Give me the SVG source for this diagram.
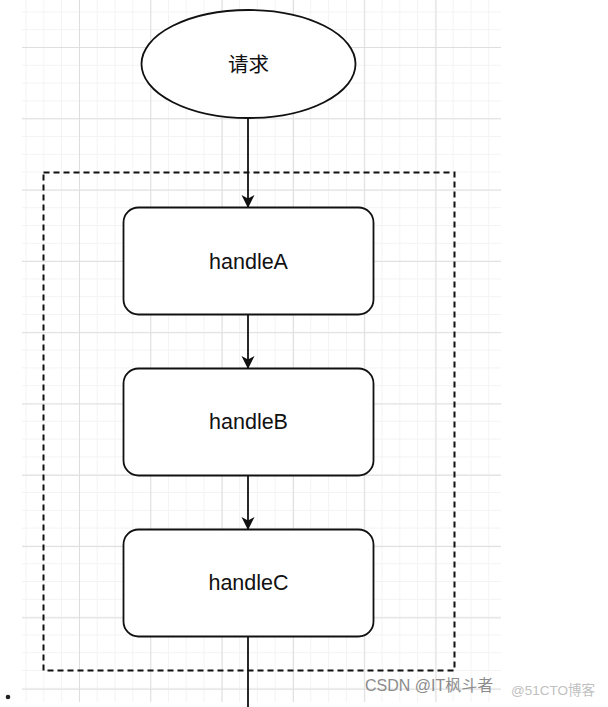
<svg xmlns="http://www.w3.org/2000/svg" width="608" height="707" viewBox="0 0 608 707">
<defs>
<style>
.minor{stroke:#f3f3f3;stroke-width:1}
.major{stroke:#dedede;stroke-width:1}
.node{fill:#fff;stroke:#111;stroke-width:1.8}
.lbl{font-family:"Liberation Sans",Arial,sans-serif;font-size:21.5px;fill:#111;text-anchor:middle}
.cjk{font-family:"Liberation Sans","Noto Sans CJK SC",sans-serif;font-size:20.5px;fill:#111;text-anchor:middle}
.edge{stroke:#111;stroke-width:1.8;fill:none}
</style>
<marker id="arr" markerWidth="13" markerHeight="14" refX="12" refY="7" orient="auto" markerUnits="userSpaceOnUse">
<path d="M0,0.5 L13,7 L0,13.5 L3.5,7 Z" fill="#111"/>
</marker>
<pattern id="gminor" x="7.7" y="-6.4" width="17.8" height="17.8" patternUnits="userSpaceOnUse">
<path d="M0.5,0 V17.8 M0,0.5 H17.8" class="minor"/>
</pattern>
<pattern id="gmajor" x="7.7" y="-24.3" width="71.3" height="71.3" patternUnits="userSpaceOnUse">
<path d="M0.5,0 V71.3 M0,0.5 H71.3" class="major"/>
</pattern>
</defs>
<rect width="608" height="707" fill="#fff"/>
<g id="grid">
<rect x="22" y="0" width="479" height="702" fill="url(#gminor)"/>
<rect x="22" y="0" width="479" height="702" fill="url(#gmajor)"/>
</g>
<g id="container">
<rect x="43.5" y="172.5" width="411" height="498" fill="none" stroke="#111" stroke-width="2" stroke-dasharray="6 4"/>
</g>
<g id="connectors">
<line class="edge" x1="248" y1="118" x2="248" y2="207" marker-end="url(#arr)"/>
<line class="edge" x1="248" y1="314" x2="248" y2="368" marker-end="url(#arr)"/>
<line class="edge" x1="248" y1="475" x2="248" y2="529" marker-end="url(#arr)"/>
<line class="edge" x1="248" y1="636" x2="248" y2="707"/>
</g>
<g id="request">
<ellipse class="node" cx="248.5" cy="64" rx="107" ry="54"/>
<text class="cjk" x="248.5" y="72">请求</text>
</g>
<g id="handleA">
<rect class="node" x="123.5" y="207.5" width="250" height="107" rx="15"/>
<text class="lbl" x="248.5" y="269">handleA</text>
</g>
<g id="handleB">
<rect class="node" x="123.5" y="368.5" width="250" height="107" rx="15"/>
<text class="lbl" x="248.5" y="429">handleB</text>
</g>
<g id="handleC">
<rect class="node" x="123.5" y="529.5" width="250" height="107" rx="15"/>
<text class="lbl" x="248.5" y="590">handleC</text>
</g>
<g id="watermark">
<circle cx="8" cy="697" r="2.3" fill="#222"/>
<text x="365" y="691" font-family="Liberation Sans,'Noto Sans CJK SC',sans-serif" font-size="16" fill="#8c8c8c">CSDN @IT枫斗者</text>
<text x="511" y="695" font-family="Liberation Sans,'Noto Sans CJK SC',sans-serif" font-size="13.5" fill="#c0c0c0">@51CTO博客</text>
</g>
</svg>
